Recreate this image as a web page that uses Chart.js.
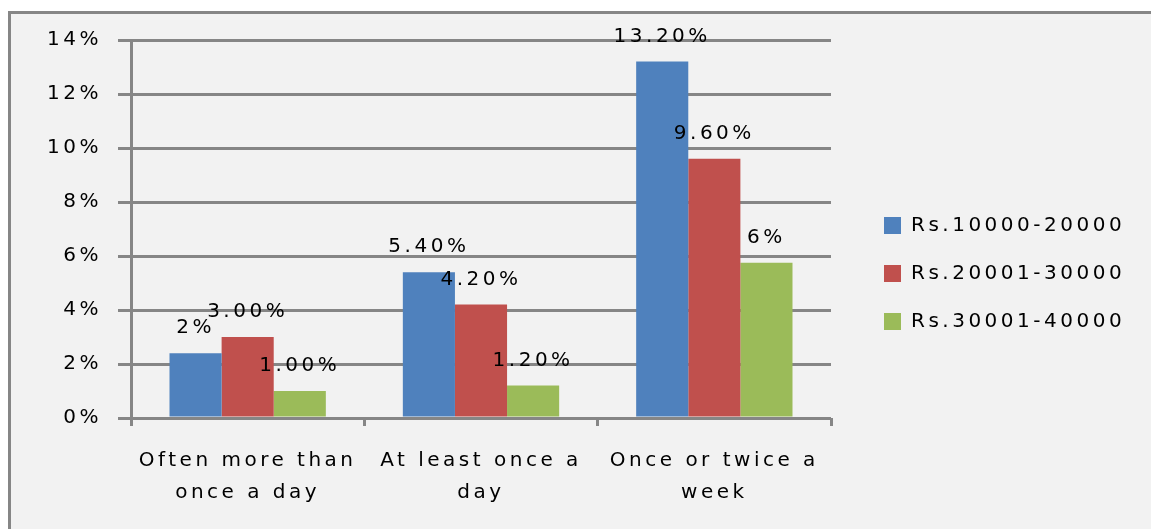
<!DOCTYPE html>
<html>
<head>
<meta charset="utf-8">
<script src="https://cdn.jsdelivr.net/npm/chart.js@4"></script>
<style>
  html, body { margin: 0; padding: 0; background: #ffffff; }
  canvas { display: block; }
</style>
</head>
<body>
<canvas id="chart" width="1151" height="529"></canvas>
<script>
// chart values
const categories = [['Often more than', 'once a day'], ['At least once a', 'day'], ['Once or twice a', 'week']];
const seriesNames = ['Rs.10000-20000', 'Rs.20001-30000', 'Rs.30001-40000'];
const lowIncome = [2.4, 5.4, 13.2];
const midIncome = [3.0, 4.2, 9.6];
const highIncome = [1.0, 1.2, 5.75];
const lowLabels = ['2%', '5.40%', '13.20%'];
const midLabels = ['3.00%', '4.20%', '9.60%'];
const highLabels = ['1.00%', '1.20%', '6%'];
const yTicks = [0, 2, 4, 6, 8, 10, 12, 14];

const gridColor = '#868686';
const letterGap = '3.5px';
const font = { family: "'DejaVu Sans', Verdana, sans-serif", size: 20 };

// wide letter spacing like the original; the context resets on resize so set it each time
const spacing = {
    id: 'spacing',
    beforeLayout(chart) { chart.ctx.letterSpacing = letterGap; },
    beforeDraw(chart) { chart.ctx.letterSpacing = letterGap; }
};

// leave a gap between the plot and the legend (a spacer axis would shrink the legend)
const legendGap = {
    id: 'legendGap',
    afterLayout(chart) {
        chart.legend.left += 25;
        chart.legend.right += 25;
    }
};

// grey panel with border at top and left
const panel = {
    id: 'panel',
    beforeDraw(chart) {
        const ctx = chart.ctx;
        ctx.save();
        ctx.fillStyle = '#ffffff';
        ctx.fillRect(0, 0, chart.width, chart.height);
        ctx.fillStyle = '#f2f2f2';
        ctx.fillRect(9, 12, chart.width + 20, chart.height + 20);
        ctx.strokeStyle = gridColor;
        ctx.lineWidth = 3;
        ctx.strokeRect(9.5, 12.5, chart.width + 20, chart.height + 20);
        ctx.restore();
    }
};

// value labels above the bars
const valueLabels = {
    id: 'valueLabels',
    afterDatasetsDraw(chart) {
        const ctx = chart.ctx;
        const texts = [lowLabels, midLabels, highLabels];
        ctx.save();
        ctx.font = font.size + 'px ' + font.family;
        ctx.letterSpacing = letterGap;
        ctx.fillStyle = '#000000';
        ctx.textAlign = 'center';
        ctx.textBaseline = 'middle';
        chart.data.datasets.forEach((ds, i) => {
            chart.getDatasetMeta(i).data.forEach((bar, j) => {
                ctx.fillText(texts[i][j], bar.x, bar.y - 25);
            });
        });
        ctx.restore();
    }
};

new Chart(document.getElementById('chart'), {
    type: 'bar',
    data: {
        labels: categories,
        datasets: [
            { label: seriesNames[0], data: lowIncome, backgroundColor: '#4f81bd' },
            { label: seriesNames[1], data: midIncome, backgroundColor: '#c0504d' },
            { label: seriesNames[2], data: highIncome, backgroundColor: '#9bbb59' }
        ]
    },
    options: {
        responsive: false,
        animation: false,
        events: [],
        datasets: {
            bar: { barPercentage: 1, categoryPercentage: 0.67 }
        },
        layout: { padding: { left: 0, top: 19, right: 43, bottom: 1 } },
        plugins: {
            tooltip: { enabled: false },
            legend: {
                position: 'right',
                align: 'center',
                labels: {
                    boxWidth: 17,
                    boxHeight: 17,
                    padding: 28,
                    color: '#000000',
                    font: font
                }
            }
        },
        scales: {
            x: {
                offset: true,
                grid: {
                    offset: true,
                    drawOnChartArea: false,
                    color: gridColor,
                    lineWidth: 3,
                    tickLength: 8
                },
                border: { display: false },
                ticks: {
                    color: '#000000',
                    font: { family: font.family, size: 20, lineHeight: 1.6 },
                    padding: 19,
                    maxRotation: 0
                }
            },
            y: {
                min: 0,
                max: 14,
                afterBuildTicks(axis) {
                    axis.ticks = yTicks.map(v => ({ value: v }));
                },
                afterFit(axis) { axis.width = 131; },
                grid: {
                    color: gridColor,
                    lineWidth: 3,
                    tickLength: 13
                },
                border: { color: gridColor, width: 3 },
                ticks: {
                    color: '#000000',
                    font: font,
                    padding: 16,
                    callback: v => v + '%'
                }
            },
            // empty spacer above the plot
            gapTop: {
                type: 'linear',
                position: 'top',
                display: true,
                grid: { display: false },
                border: { display: false },
                ticks: { display: false },
                afterFit(axis) { axis.height = 21; }
            }
        }
    },
    plugins: [spacing, legendGap, panel, valueLabels]
});
</script>
</body>
</html>
